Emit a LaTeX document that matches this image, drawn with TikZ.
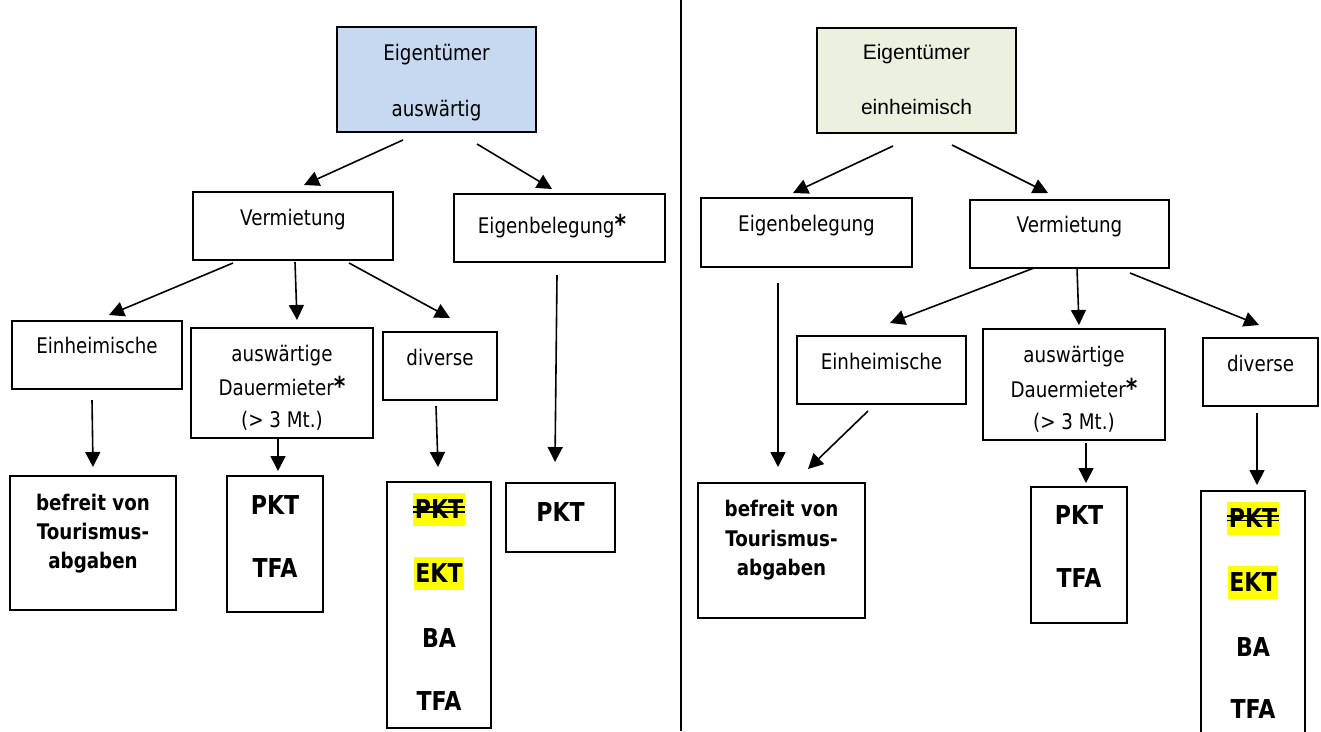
\documentclass[tikz,border=0pt]{standalone}
\usepackage{fontspec}
\setmainfont{DejaVu Sans}[FakeStretch=0.85]
\newfontfamily\arialf{Liberation Sans}
\usetikzlibrary{arrows.meta,calc}
\definecolor{blueF}{HTML}{C6D9F1}
\definecolor{greenF}{HTML}{EBF1DE}
\definecolor{hl}{HTML}{FFFF00}
\begin{document}
\begin{tikzpicture}[x=1pt,y=-1pt,
  box/.style={draw=black, line width=1.6pt, rectangle, anchor=north west, inner sep=0pt, outer sep=0pt},
  txt/.style={font=\fontsize{21.5}{24}\selectfont, anchor=base, inner sep=0pt},
  atxt/.style={font=\arialf\fontsize{21}{24}\selectfont, anchor=base, inner sep=0pt},
  btxt/.style={font=\fontsize{21.5}{24}\selectfont\bfseries, anchor=base, inner sep=0pt},
  big/.style={font=\fontsize{26}{28}\selectfont\bfseries, anchor=center, inner sep=0pt},
  hlt/.style={font=\fontsize{26}{28}\selectfont\bfseries, anchor=center, fill=hl, inner xsep=1.5pt, inner ysep=0pt, minimum height=33pt},
  arr/.style={line width=1.6pt, -{Triangle[length=15pt,width=15pt]}},
  strike/.style={line width=1.6pt}
]
\clip (0,0) rectangle (1321,731);
% divider
\draw[line width=1.6pt] (681,0) -- (681,731);

%%%%%%%%%%%% LEFT
\node[box, minimum width=199pt, minimum height=105pt, fill=blueF] (e1) at (337,27) {};
\node[txt] (e1a) at (436.5,60) {Eigentümer};
\node[txt] (e1b) at (436.5,116) {auswärtig};

\node[box, minimum width=200pt, minimum height=68pt] (verm1) at (193,192) {};
\node[txt] (verm1t) at (293,225) {Vermietung};

\node[box, minimum width=211pt, minimum height=68pt] (eig1) at (454,194) {};
\node[txt] (eig1t) at (552,233) {Eigenbelegung{\fontsize{26}{26}\selectfont\bfseries *}};

\node[box, minimum width=170pt, minimum height=68pt] (einh1) at (12,321) {};
\node[txt] (einh1t) at (97,353) {Einheimische};

\node[box, minimum width=182pt, minimum height=110pt] (dauer1) at (191,328) {};
\node[txt] (dauer1a) at (282,361) {auswärtige};
\node[txt] (dauer1b) at (282,395) {Dauermieter{\fontsize{26}{26}\selectfont\bfseries *}};
\node[txt] (dauer1c) at (282,427) {(> 3 Mt.)};

\node[box, minimum width=114pt, minimum height=68pt] (div1) at (383,332) {};
\node[txt] (div1t) at (440,365) {diverse};

\node[box, minimum width=166pt, minimum height=134pt] (bef1) at (10,476) {};
\node[btxt] (bef1a) at (93,510) {befreit von};
\node[btxt] (bef1b) at (93,539) {Tourismus-};
\node[btxt] (bef1c) at (93,568) {abgaben};

\node[box, minimum width=96pt, minimum height=136pt] (pt1) at (227,476) {};
\node[big] (pt1a) at (275,505) {PKT};
\node[big] (pt1b) at (275,568) {TFA};

\node[box, minimum width=104pt, minimum height=246pt] (dr1) at (387,482) {};
\node[hlt] (dr1a) at (439,509.5) {PKT};
\draw[strike] ([shift={(0,-2.3)}]dr1a.west) -- ([shift={(0,-2.3)}]dr1a.east);
\draw[strike] ([shift={(0,2.3)}]dr1a.west) -- ([shift={(0,2.3)}]dr1a.east);
\node[hlt] (dr1b) at (439,573.5) {EKT};
\node[big] (dr1c) at (439,638) {BA};
\node[big] (dr1d) at (439,701) {TFA};

\node[box, minimum width=109pt, minimum height=69pt] (pk1) at (506,483) {};
\node[big] (pk1t) at (560.5,512) {PKT};

% left arrows
\draw[arr] ([shift={(66,113)}]e1.north west) -- ([shift={(111,-7)}]verm1.north west);
\draw[arr] ([shift={(140,117)}]e1.north west) -- ([shift={(98,-5)}]eig1.north west);
\draw[arr] ([shift={(40,71)}]verm1.north west) -- ([shift={(97,-6)}]einh1.north west);
\draw[arr] ([shift={(102,70)}]verm1.north west) -- ([shift={(106,-8)}]dauer1.north west);
\draw[arr] ([shift={(156,71)}]verm1.north west) -- ([shift={(67,-14)}]div1.north west);
\draw[arr] ([shift={(103,81)}]eig1.north west) -- ([shift={(49,-21)}]pk1.north west);
\draw[arr] ([shift={(80,79)}]einh1.north west) -- ([shift={(83,-9)}]bef1.north west);
\draw[arr] ([shift={(87,110)}]dauer1.north west) -- ([shift={(51,-5)}]pt1.north west);
\draw[arr] ([shift={(53,74)}]div1.north west) -- ([shift={(51,-15)}]dr1.north west);

%%%%%%%%%%%% RIGHT
\node[box, minimum width=199pt, minimum height=105pt, fill=greenF] (e2) at (817,28) {};
\node[atxt] (e2a) at (916.5,59.5) {Eigentümer};
\node[atxt] (e2b) at (916.5,114.5) {einheimisch};

\node[box, minimum width=211pt, minimum height=69pt] (eig2) at (701,198) {};
\node[txt] (eig2t) at (806.5,231) {Eigenbelegung};

\node[box, minimum width=199pt, minimum height=68pt] (verm2) at (970,200) {};
\node[txt] (verm2t) at (1069.5,232) {Vermietung};

\node[box, minimum width=169pt, minimum height=68pt] (einh2) at (797,336) {};
\node[txt] (einh2t) at (881.5,369) {Einheimische};

\node[box, minimum width=182pt, minimum height=111pt] (dauer2) at (983,329) {};
\node[txt] (dauer2a) at (1074,362) {auswärtige};
\node[txt] (dauer2b) at (1074,397) {Dauermieter{\fontsize{26}{26}\selectfont\bfseries *}};
\node[txt] (dauer2c) at (1074,429) {(> 3 Mt.)};

\node[box, minimum width=115pt, minimum height=68pt] (div2) at (1203,338) {};
\node[txt] (div2t) at (1260.5,371) {diverse};

\node[box, minimum width=167pt, minimum height=135pt] (bef2) at (698,483) {};
\node[btxt] (bef2a) at (781.5,516) {befreit von};
\node[btxt] (bef2b) at (781.5,546) {Tourismus-};
\node[btxt] (bef2c) at (781.5,575) {abgaben};

\node[box, minimum width=96pt, minimum height=136pt] (pt2) at (1031,487) {};
\node[big] (pt2a) at (1079,515) {PKT};
\node[big] (pt2b) at (1079,578) {TFA};

\node[box, minimum width=104pt, minimum height=260pt] (dr2) at (1201,491) {};
\node[hlt] (dr2a) at (1253,518) {PKT};
\draw[strike] ([shift={(0,-2.3)}]dr2a.west) -- ([shift={(0,-2.3)}]dr2a.east);
\draw[strike] ([shift={(0,2.3)}]dr2a.west) -- ([shift={(0,2.3)}]dr2a.east);
\node[hlt] (dr2b) at (1253,582) {EKT};
\node[big] (dr2c) at (1253,647) {BA};
\node[big] (dr2d) at (1253,709) {TFA};

% right arrows
\draw[arr] ([shift={(76,118)}]e2.north west) -- ([shift={(92,-5)}]eig2.north west);
\draw[arr] ([shift={(135,117)}]e2.north west) -- ([shift={(78,-7)}]verm2.north west);
\draw[arr] ([shift={(64,68)}]verm2.north west) -- ([shift={(93,-13)}]einh2.north west);
\draw[arr] ([shift={(107,68)}]verm2.north west) -- ([shift={(96,-4)}]dauer2.north west);
\draw[arr] ([shift={(160,73)}]verm2.north west) -- ([shift={(56,-13)}]div2.north west);
\draw[arr] ([shift={(77,85)}]eig2.north west) -- ([shift={(80,-16)}]bef2.north west);
\draw[arr] ([shift={(71,75)}]einh2.north west) -- ([shift={(110,-14)}]bef2.north west);
\draw[arr] ([shift={(103,114)}]dauer2.north west) -- ([shift={(55,-4)}]pt2.north west);
\draw[arr] ([shift={(54,75)}]div2.north west) -- ([shift={(56,-6)}]dr2.north west);
\end{tikzpicture}
\end{document}
